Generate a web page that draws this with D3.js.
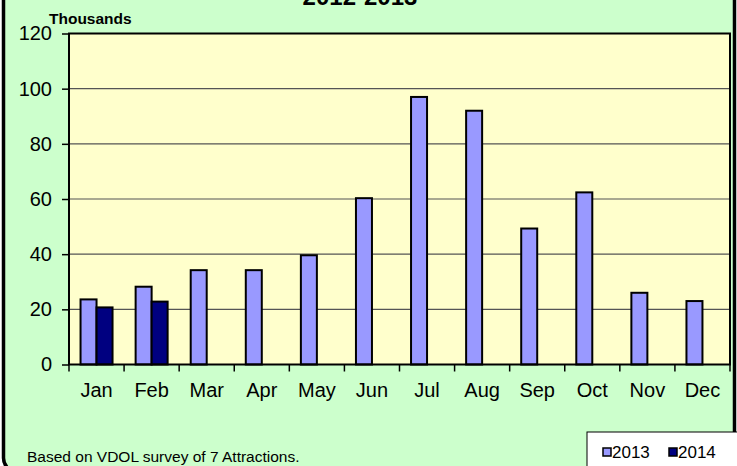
<!DOCTYPE html>
<html>
<head>
<meta charset="utf-8">
<script src="https://cdn.jsdelivr.net/npm/d3@7"></script>
<style>
  body { margin: 0; background: #fff; }
  svg { display: block; font-family: "Liberation Sans", Arial, sans-serif; }
</style>
</head>
<body>
<div id="chart-area"></div>
<script>
const months = ["Jan", "Feb", "Mar", "Apr", "May", "Jun", "Jul", "Aug", "Sep", "Oct", "Nov", "Dec"];
const series = ["2013", "2014"];
const values2013 = [23.6, 28.2, 34.2, 34.2, 39.6, 60.3, 97.0, 92.0, 49.3, 62.4, 26.0, 23.0];
const values2014 = [20.7, 22.8, null, null, null, null, null, null, null, null, null, null];
const yTicks = [0, 20, 40, 60, 80, 100, 120];

const W = 737, H = 466;
const plot = { left: 69, right: 730, top: 33.5, bottom: 364.5 };
const colors = { "2013": "#9999ff", "2014": "#000080" };

const svg = d3.select("#chart-area")
  .append("svg")
    .attr("width", W)
    .attr("height", H);

// outer chart frame (rounded, cut off at top)
svg.append("rect")
  .attr("x", 3.5)
  .attr("y", -20)
  .attr("width", 731)
  .attr("height", 492)
  .attr("rx", 14)
  .attr("fill", "#ccffcc")
  .attr("stroke", "#000")
  .attr("stroke-width", 3.5);

// title, mostly above the visible area as in the source
svg.append("text")
  .attr("x", 360)
  .attr("y", 5)
  .attr("text-anchor", "middle")
  .style("font-weight", "bold")
  .style("font-size", "24px")
  .text("2012-2013");

const x = d3.scaleBand()
  .domain(months)
  .range([plot.left, plot.right]);

const xInner = d3.scaleBand()
  .domain(series)
  .range([0, 32])
  .padding(0);

const y = d3.scaleLinear()
  .domain([0, 120])
  .range([plot.bottom, plot.top]);

svg.append("rect")
  .attr("x", plot.left)
  .attr("y", plot.top)
  .attr("width", plot.right - plot.left)
  .attr("height", plot.bottom - plot.top)
  .attr("fill", "#ffffcc");

// gridlines
svg.append("g")
  .selectAll("line")
  .data(yTicks.filter(d => d > 0 && d < 120))
  .enter()
  .append("line")
    .attr("x1", plot.left)
    .attr("x2", plot.right)
    .attr("y1", d => y(d))
    .attr("y2", d => y(d))
    .attr("stroke", "#555")
    .attr("stroke-width", 1.2);

const data = months.map((m, i) => ({ month: m, values: [
  { key: "2013", value: values2013[i] },
  { key: "2014", value: values2014[i] }
].filter(v => v.value != null) }));

const groups = svg.append("g")
  .selectAll("g")
  .data(data)
  .enter()
  .append("g")
    .attr("transform", d => `translate(${x(d.month) + (x.bandwidth() - 32) / 2}, 0)`);

groups.selectAll("rect")
  .data(d => d.values)
  .enter()
  .append("rect")
    .attr("x", d => xInner(d.key))
    .attr("y", d => y(d.value))
    .attr("width", xInner.bandwidth())
    .attr("height", d => y(0) - y(d.value))
    .attr("fill", d => colors[d.key])
    .attr("stroke", "#000")
    .attr("stroke-width", 2);

// plot border
svg.append("rect")
  .attr("x", plot.left)
  .attr("y", plot.top)
  .attr("width", plot.right - plot.left)
  .attr("height", plot.bottom - plot.top)
  .attr("fill", "none")
  .attr("stroke", "#000")
  .attr("stroke-width", 2);

const yAxis = d3.axisLeft(y)
  .tickValues(yTicks)
  .tickSize(7)
  .tickPadding(10);

const yG = svg.append("g")
  .attr("transform", `translate(${plot.left}, 0)`)
  .call(yAxis);
yG.select(".domain").remove();
yG.selectAll("line").attr("stroke", "#000").attr("stroke-width", 1.5);
yG.selectAll("text")
  .style("font-size", "20px")
  .style("font-family", "'Liberation Sans', Arial, sans-serif")
  .attr("fill", "#000");

// x axis: ticks between categories
const xG = svg.append("g");
xG.selectAll("line")
  .data(months.map(m => x(m)).concat([plot.right]))
  .enter()
  .append("line")
    .attr("x1", d => d)
    .attr("x2", d => d)
    .attr("y1", plot.bottom)
    .attr("y2", plot.bottom + 7)
    .attr("stroke", "#000")
    .attr("stroke-width", 1.5);

xG.selectAll("text")
  .data(months)
  .enter()
  .append("text")
    .attr("x", d => x(d) + x.bandwidth() / 2)
    .attr("y", 397)
    .attr("text-anchor", "middle")
    .style("font-size", "20px")
    .text(d => d);

svg.append("text")
  .attr("x", 49)
  .attr("y", 24)
  .style("font-weight", "bold")
  .style("font-size", "15.5px")
  .text("Thousands");

svg.append("text")
  .attr("x", 27)
  .attr("y", 462)
  .style("font-size", "15.5px")
  .text("Based on VDOL survey of 7 Attractions.");

// legend
const legend = svg.append("g");
legend.append("rect")
  .attr("x", 587)
  .attr("y", 432)
  .attr("width", 160)
  .attr("height", 50)
  .attr("fill", "#fff")
  .attr("stroke", "#000")
  .attr("stroke-width", 1);

const legendX = [603, 669];
series.forEach((s, i) => {
  legend.append("rect")
    .attr("x", legendX[i])
    .attr("y", 448)
    .attr("width", 8)
    .attr("height", 8)
    .attr("fill", colors[s])
    .attr("stroke", "#000")
    .attr("stroke-width", 1.5);
  legend.append("text")
    .attr("x", legendX[i] + 9)
    .attr("y", 458)
    .style("font-size", "17px")
    .text(s);
});
</script>
</body>
</html>
